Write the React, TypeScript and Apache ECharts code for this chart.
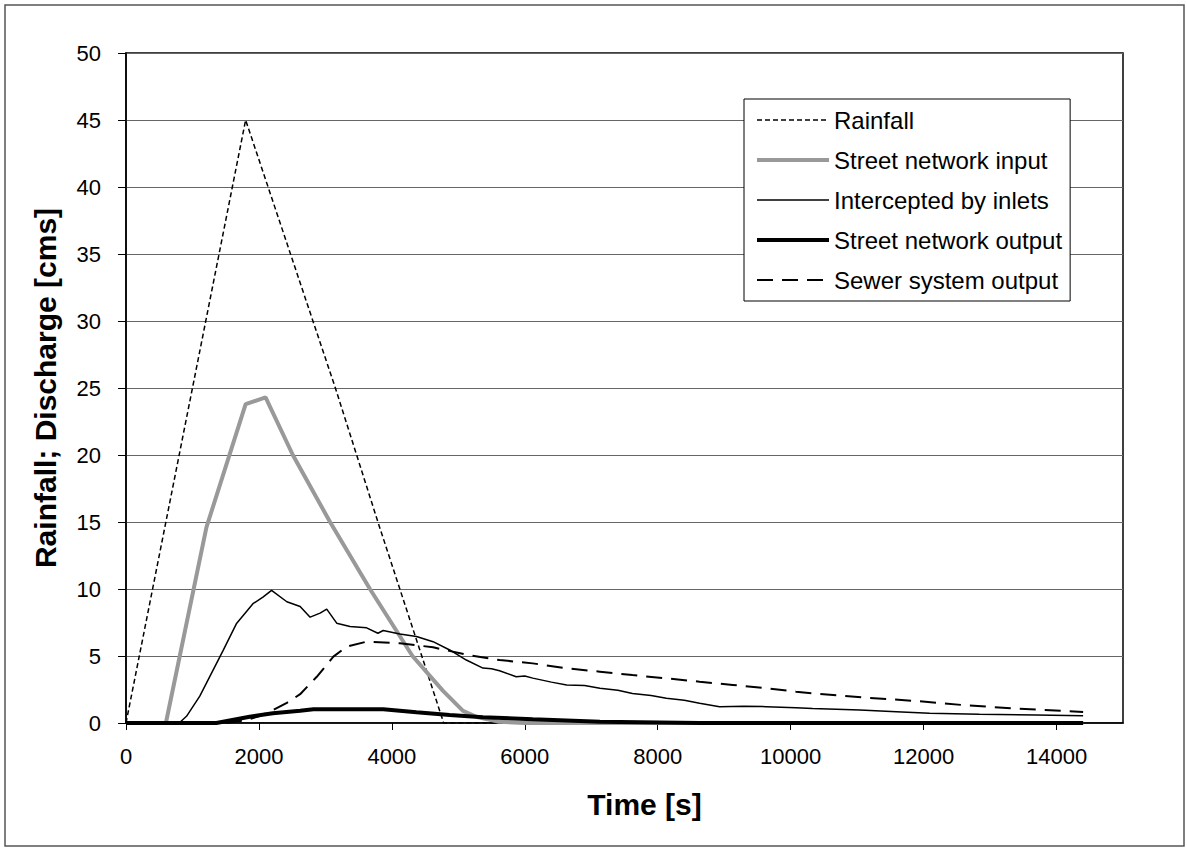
import React, { useEffect, useRef } from "react";
import * as echarts from "echarts";

const seriesNames = [
  "Rainfall",
  "Street network input",
  "Intercepted by inlets",
  "Street network output",
  "Sewer system output",
];

const rainfall: number[][] = [
  [0, 0], [1800, 45], [3150, 25], [3470, 20], [3790, 15], [4120, 10], [4450, 5], [4780, 0], [14400, 0],
];

const streetInput: number[][] = [
  [0, 0], [600, 0], [1210, 14.6], [1800, 23.8], [2100, 24.3], [2510, 20], [3070, 15], [3670, 10],
  [4310, 5], [4770, 2.4], [5070, 0.9], [5280, 0.45], [5600, 0.1], [6000, 0], [14400, 0],
];

const intercepted: number[][] = [
  [0, 0], [800, 0], [910, 0.5], [1110, 2.0], [1460, 5.4], [1660, 7.4], [1910, 8.9], [2060, 9.4],
  [2190, 9.9], [2420, 9.05], [2620, 8.7], [2770, 7.9], [2920, 8.2], [3020, 8.5], [3170, 7.45],
  [3370, 7.2], [3620, 7.1], [3790, 6.7], [3870, 6.9], [4120, 6.65], [4370, 6.45], [4620, 6.07],
  [4870, 5.45], [5120, 4.7], [5370, 4.1], [5500, 4.05], [5620, 3.9], [5870, 3.45], [6000, 3.5],
  [6120, 3.35], [6400, 3.05], [6630, 2.84], [6900, 2.8], [7130, 2.59], [7400, 2.45], [7620, 2.2],
  [7900, 2.05], [8130, 1.84], [8400, 1.7], [8630, 1.47], [8930, 1.22], [9300, 1.25], [9630, 1.22],
  [10080, 1.14], [10330, 1.09], [11040, 0.97], [11590, 0.84], [12090, 0.72], [12840, 0.65],
  [13690, 0.6], [14400, 0.55],
];

const streetOutput: number[][] = [
  [0, 0], [1360, 0], [1860, 0.47], [2210, 0.72], [2620, 0.92], [2820, 1.02], [3870, 1.02],
  [4370, 0.8], [4870, 0.6], [5370, 0.43], [6120, 0.28], [7130, 0.1], [8630, 0], [14400, 0],
];

const sewerOutput: number[][] = [
  [0, 0], [1500, 0], [1800, 0.2], [2000, 0.5], [2215, 0.97], [2420, 1.5], [2620, 2.15], [2870, 3.45],
  [3120, 4.95], [3320, 5.7], [3620, 6.07], [4120, 5.95], [4620, 5.65], [5120, 5.1], [5620, 4.7],
  [6120, 4.45], [6630, 4.08], [7130, 3.83], [7620, 3.58], [8130, 3.33], [8630, 3.08], [9130, 2.84],
  [9630, 2.59], [10080, 2.34], [10330, 2.21], [11080, 1.91], [11840, 1.66], [12590, 1.34],
  [13340, 1.09], [14400, 0.82],
];

const FONT = "'Liberation Sans', Arial, sans-serif";

const styles = [
  { color: "#000", width: 1.5, type: [5, 3] as any },
  { color: "#999", width: 4, type: "solid" as any },
  { color: "#000", width: 1.5, type: "solid" as any },
  { color: "#000", width: 4, type: "solid" as any },
  { color: "#000", width: 2, type: [16, 9] as any },
];

const dataSets = [rainfall, streetInput, intercepted, streetOutput, sewerOutput];

export default function App() {
  const ref = useRef<HTMLDivElement>(null);
  useEffect(() => {
    if (!ref.current) return;
    const chart = echarts.init(ref.current, null, { renderer: "svg" });
    chart.setOption({
      animation: false,
      backgroundColor: "#fff",
      graphic: [
        {
          type: "rect",
          shape: { x: 5, y: 5, width: 1179, height: 841 },
          style: { fill: "none", stroke: "#555", lineWidth: 1.5 },
          z: -1,
        },
      ],
      grid: {
        left: 126,
        right: 64,
        top: 53,
        bottom: 127,
        show: true,
        borderColor: "#000",
        borderWidth: 1.5,
        backgroundColor: "transparent",
      },
      legend: {
        orient: "vertical",
        left: 744,
        top: 99,
        padding: [9, 8, 9, 11],
        itemWidth: 72,
        itemHeight: 14,
        itemGap: 16,
        borderColor: "#000",
        borderWidth: 1,
        backgroundColor: "#fff",
        textStyle: { fontFamily: FONT, fontSize: 24, color: "#000", lineHeight: 24 },
        data: seriesNames.map((n, i) => ({
          name: n,
          itemStyle: { opacity: 0 },
          lineStyle: { width: styles[i].width, type: styles[i].type, color: styles[i].color },
        })),
      },
      xAxis: {
        type: "value",
        min: 0,
        max: 15000,
        interval: 2000,
        name: "Time [s]",
        nameLocation: "middle",
        nameGap: 66,
        nameTextStyle: {
          fontFamily: FONT,
          fontSize: 30,
          fontWeight: "bold",
          color: "#000",
          padding: [0, 0, 0, 40],
        },
        axisLine: { lineStyle: { color: "#000", width: 1.5 } },
        axisTick: { show: true, length: 7, lineStyle: { color: "#000", width: 1 } },
        axisLabel: {
          fontFamily: FONT,
          fontSize: 22,
          color: "#000",
          margin: 22,
          showMaxLabel: false,
          formatter: (v: number) => String(v),
        },
        splitLine: { show: false },
      },
      yAxis: {
        type: "value",
        min: 0,
        max: 50,
        interval: 5,
        name: "Rainfall; Discharge [cms]",
        nameLocation: "middle",
        nameGap: 66,
        nameTextStyle: { fontFamily: FONT, fontSize: 30, fontWeight: "bold", color: "#000" },
        axisLine: { show: true, lineStyle: { color: "#000", width: 1.5 } },
        axisTick: { show: true, length: 8, lineStyle: { color: "#000", width: 1 } },
        axisLabel: { fontFamily: FONT, fontSize: 22, color: "#000", margin: 25 },
        splitLine: { show: true, lineStyle: { color: "#666", width: 1 } },
      },
      series: seriesNames.map((n, i) => ({
        name: n,
        type: "line",
        data: dataSets[i],
        showSymbol: false,
        symbol: "none",
        lineStyle: { color: styles[i].color, width: styles[i].width, type: styles[i].type },
        itemStyle: { color: styles[i].color },
        z: 2 + i,
      })),
    });
    return () => chart.dispose();
  }, []);
  return (
    <div
      ref={ref}
      style={{ position: "fixed", left: 0, top: 0, width: 1187, height: 850, background: "#fff" }}
    />
  );
}
